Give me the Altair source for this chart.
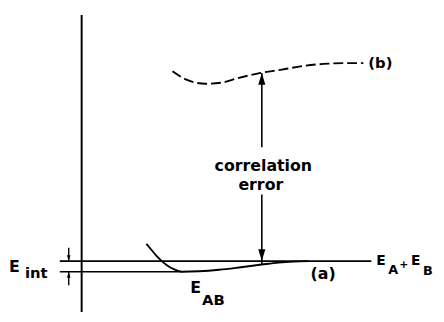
import altair as alt
import pandas as pd

# Schematic: energy E (arbitrary units) versus separation R (arbitrary units)
# curve (a): exact interaction curve E_AB
curve_a_R = [6.5, 7.0, 7.5, 8.0, 8.6, 9.3, 10.1, 11.8, 13.8, 15.8, 18.1, 19.8, 21.3, 22.8]
curve_a_E = [1.75, 1.15, 0.55, 0.05, -0.45, -0.85, -1.08, -1.03, -0.88, -0.65, -0.35, -0.15, -0.05, 0.0]
# curve (b): approximate curve (dashed)
curve_b_R = [9.13, 10.47, 11.4, 12.47, 13.97, 15.8, 17.97, 20.13, 22.47, 24.8, 26.8, 28.3]
curve_b_E = [19.25, 18.42, 18.1, 17.98, 18.08, 18.58, 19.08, 19.42, 19.82, 20.02, 20.08, 20.08]

E_sum = 0.0        # E_A + E_B level
E_min = -1.08      # minimum of E_AB
R_err = 18.1       # position of the correlation-error arrow
E_b_err = 19.07    # curve (b) at R_err
E_a_err = -0.35    # curve (a) at R_err
E_gap_top = 11.55  # arrow shaft interrupted by the text
E_gap_bot = 6.75

R_dom = [-7.4, 35.6]
E_dom = [-5.15, 25.45]

xs = alt.Scale(domain=R_dom, nice=False, zero=False)
ys = alt.Scale(domain=E_dom, nice=False, zero=False)
X = lambda f: alt.X(f, type="quantitative", scale=xs, axis=None)
Y = lambda f: alt.Y(f, type="quantitative", scale=ys, axis=None)

# straight segments
seg = pd.DataFrame({
    "R":  [0.0, -2.2, -2.2, R_err, R_err, -1.3, -1.3],
    "E":  [E_dom[0], E_sum, E_min, E_b_err, E_gap_bot, 1.35, E_min],
    "R2": [0.0, 29.1, 10.1, R_err, R_err, -1.3, -1.3],
    "E2": [24.95, E_sum, E_min, E_gap_top, E_a_err, E_sum, -2.45],
    "w":  [2.0, 1.6, 1.6, 1.6, 1.6, 1.4, 1.4],
})
rules = alt.Chart(seg).mark_rule(color="black").encode(
    x=X("R"), y=Y("E"), x2="R2", y2="E2",
    strokeWidth=alt.StrokeWidth("w:Q", scale=None),
)

dfa = pd.DataFrame({"R": curve_a_R, "E": curve_a_E})
line_a = alt.Chart(dfa).mark_line(color="black", strokeWidth=1.9, interpolate="monotone").encode(
    x=X("R"), y=Y("E"))

dfb = pd.DataFrame({"R": curve_b_R, "E": curve_b_E})
line_b = alt.Chart(dfb).mark_line(color="black", strokeWidth=1.9, interpolate="monotone",
                                   strokeDash=[10, 4]).encode(x=X("R"), y=Y("E"))

up = "M0,-1L0.6,1L-0.6,1Z"
down = "M0,1L0.6,-1L-0.6,-1Z"
big_up = alt.Chart(pd.DataFrame({"R": [R_err], "E": [E_b_err - 0.6]})).mark_point(
    shape=up, filled=True, size=144, color="black", opacity=1, strokeWidth=0).encode(x=X("R"), y=Y("E"))
big_down = alt.Chart(pd.DataFrame({"R": [R_err], "E": [E_sum + 0.6]})).mark_point(
    shape=down, filled=True, size=144, color="black", opacity=1, strokeWidth=0).encode(x=X("R"), y=Y("E"))
small_down = alt.Chart(pd.DataFrame({"R": [-1.3], "E": [E_sum + 0.3]})).mark_point(
    shape=down, filled=True, size=36, color="black", opacity=1, strokeWidth=0).encode(x=X("R"), y=Y("E"))
small_up = alt.Chart(pd.DataFrame({"R": [-1.3], "E": [E_min - 0.3]})).mark_point(
    shape=up, filled=True, size=36, color="black", opacity=1, strokeWidth=0).encode(x=X("R"), y=Y("E"))

labels_c = pd.DataFrame({
    "t": ["correlation", "error"],
    "R": [18.25, 18.0],
    "E": [9.15, 7.25],
    "s": [16, 16],
})
text_c = alt.Chart(labels_c).mark_text(align="center", baseline="alphabetic", font="DejaVu Sans",
                                       fontWeight="bold", color="black").encode(
    x=X("R"), y=Y("E"), text="t:N", size=alt.Size("s:Q", scale=None))

labels_l = pd.DataFrame({
    "t": ["E", "int", "E", "AB", "(a)", "(b)", "E", "A", "+", "E", "B"],
    "R": [-7.3, -5.7, 10.9, 12.1, 23.0, 28.8, 29.6, 30.8, 31.9, 33.1, 34.3],
    "E": [-1.08, -1.75, -3.25, -4.45, -1.85, 19.6, -0.35, -1.35, -0.75, -0.35, -1.45],
    "s": [16, 15, 16, 15, 16, 15, 14, 13, 11, 14, 13],
})
text_l = alt.Chart(labels_l).mark_text(align="left", baseline="alphabetic", font="DejaVu Sans",
                                       fontWeight="bold", color="black").encode(
    x=X("R"), y=Y("E"), text="t:N", size=alt.Size("s:Q", scale=None))

chart = alt.layer(rules, line_a, line_b, big_up, big_down, small_down, small_up, text_c, text_l).properties(
    width=434, height=306, padding=0, autosize=alt.AutoSizeParams(type="none"), background="white"
).configure_view(stroke=None)

chart.save("out.html", embed_options={"renderer": "svg", "actions": False})
